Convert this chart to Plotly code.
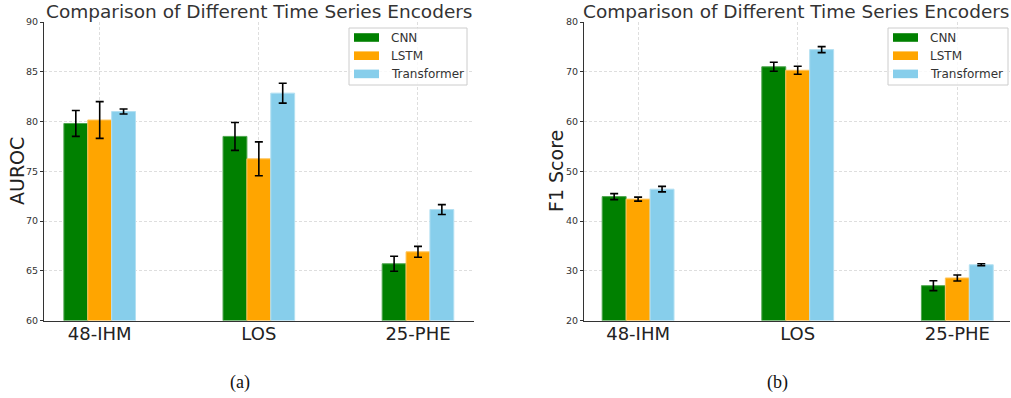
import plotly.graph_objects as go

# Tasks on the x axis
tasks = ["48-IHM", "LOS", "25-PHE"]
encoders = ["CNN", "LSTM", "Transformer"]
colors = ["#008000", "#FFA500", "#87CEEB"]
edge_colors = ["#4fa64f", "#ffc55c", "#b3e0f2"]

# AUROC means and standard deviations
auroc_cnn = [79.8, 78.5, 65.7]
auroc_lstm = [80.15, 76.25, 66.9]
auroc_tf = [81.0, 82.85, 71.15]
auroc_cnn_err = [1.3, 1.4, 0.75]
auroc_lstm_err = [1.85, 1.7, 0.55]
auroc_tf_err = [0.25, 1.0, 0.5]

# F1 means and standard deviations
f1_cnn = [44.9, 71.0, 27.0]
f1_lstm = [44.4, 70.3, 28.55]
f1_tf = [46.4, 74.45, 31.2]
f1_cnn_err = [0.6, 0.9, 1.0]
f1_lstm_err = [0.4, 0.8, 0.6]
f1_tf_err = [0.55, 0.6, 0.2]

auroc_ticks = [60, 65, 70, 75, 80, 85, 90]
f1_ticks = [20, 30, 40, 50, 60, 70, 80]

W, H = 1011, 398


def px(x):
    return x / W


def py(y):
    return 1 - y / H


fig = go.Figure()

panels = [
    ("x", "y", [auroc_cnn, auroc_lstm, auroc_tf], [auroc_cnn_err, auroc_lstm_err, auroc_tf_err]),
    ("x2", "y2", [f1_cnn, f1_lstm, f1_tf], [f1_cnn_err, f1_lstm_err, f1_tf_err]),
]
for xa, ya, means, errs in panels:
    for name, vals, err, col, ecol in zip(encoders, means, errs, colors, edge_colors):
        fig.add_trace(go.Bar(
            x=tasks, y=vals, name=name, xaxis=xa, yaxis=ya, showlegend=False,
            marker=dict(color=col, line=dict(color=ecol, width=1)),
            error_y=dict(type="data", array=err, color="black", thickness=1.6, width=4),
        ))

axis_common = dict(
    showgrid=True, gridcolor="#dedede", griddash="3px,2px", gridwidth=0.8,
    showline=True, linecolor="#333333", linewidth=1,
    zeroline=False, automargin=False,
)
y_ticks = dict(ticks="outside", ticklen=3, tickcolor="#333333")
x_ticks = dict(ticks="", ticklabelstandoff=-3)

fig.update_layout(
    width=W, height=H,
    margin=dict(l=0, r=0, t=0, b=0, autoexpand=False),
    paper_bgcolor="white", plot_bgcolor="white",
    barmode="group", bargap=0.55, bargroupgap=0,
    font=dict(family="DejaVu Sans", color="#333333"),
    xaxis=dict(domain=[px(44), px(474)], anchor="y", range=[-0.35, 2.352],
               tickfont=dict(size=18, color="#222222"), **x_ticks, **axis_common),
    yaxis=dict(domain=[py(320.5), py(22)], anchor="x", range=[60, 90], tickvals=auroc_ticks,
               tickfont=dict(size=9.5, color="#333333"), **y_ticks, **axis_common),
    xaxis2=dict(domain=[px(584), px(1010)], anchor="y2", range=[-0.339, 2.33],
                tickfont=dict(size=18, color="#222222"), **x_ticks, **axis_common),
    yaxis2=dict(domain=[py(320.5), py(22)], anchor="x2", range=[20, 80], tickvals=f1_ticks,
                tickfont=dict(size=9.5, color="#333333"), **y_ticks, **axis_common),
)

# Y-axis titles
for cx, label in [(17, "AUROC"), (556, "F1 Score")]:
    fig.add_annotation(x=px(cx), y=py(171), xref="paper", yref="paper", xanchor="center",
                       yanchor="middle", showarrow=False, textangle=-90, text=label,
                       font=dict(size=19, color="#222222"))

# Panel titles and captions
for cx, cap in [((44 + 474) / 2, "(a)"), ((584 + 1010) / 2 - 1, "(b)")]:
    fig.add_annotation(x=px(cx), y=py(11.5), xref="paper", yref="paper", xanchor="center",
                       yanchor="middle", showarrow=False,
                       text="Comparison of Different Time Series Encoders",
                       font=dict(size=18.5, color="#333333"))
    fig.add_annotation(x=px(cx - 19), y=py(382), xref="paper", yref="paper", xanchor="center",
                       yanchor="middle", showarrow=False, text=cap,
                       font=dict(family="Liberation Serif", size=18, color="#111111"))

# Legends drawn as boxed swatches
for bx0, bx1 in [(349, 467), (888, 1008)]:
    fig.add_shape(type="rect", xref="paper", yref="paper",
                  x0=px(bx0), x1=px(bx1), y0=py(85), y1=py(28),
                  line=dict(color="#cccccc", width=1), fillcolor="rgba(255,255,255,0.8)")
    for i, (name, col) in enumerate(zip(encoders, colors)):
        cy = 37.5 + 18.2 * i
        fig.add_shape(type="rect", xref="paper", yref="paper",
                      x0=px(bx0 + 5), x1=px(bx0 + 30), y0=py(cy + 4.3), y1=py(cy - 4.3),
                      line=dict(width=0), fillcolor=col)
        fig.add_annotation(x=px(bx0 + 40), y=py(cy), xref="paper", yref="paper",
                           xanchor="left", yanchor="middle", showarrow=False, text=name,
                           font=dict(size=12, color="#333333"))

fig.write_html("out.html")
